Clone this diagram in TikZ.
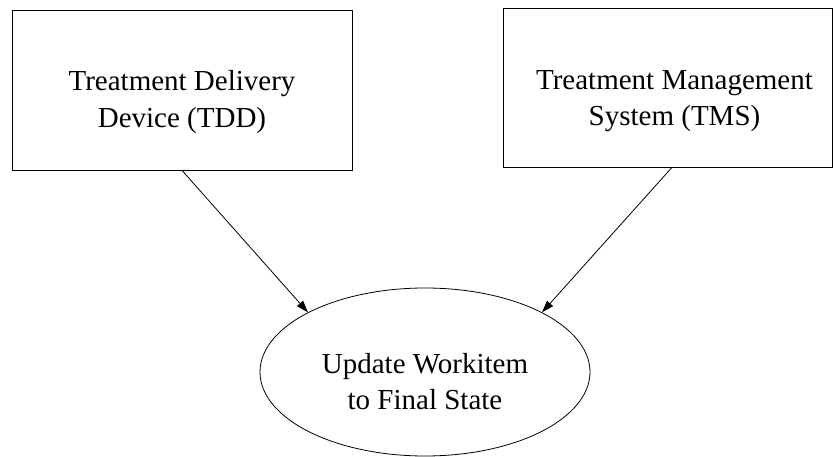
\documentclass[tikz,border=0pt]{standalone}
\usepackage{fontspec}
\setmainfont{Liberation Serif}
\usetikzlibrary{shapes.geometric,arrows.meta,positioning,calc}

\begin{document}
\begin{tikzpicture}[
    x=1pt, y=-1pt,
    sysbox/.style={rectangle, draw, line width=0.8pt, inner sep=0pt},
    opnode/.style={ellipse, draw, line width=0.8pt, inner sep=0pt,
        minimum width=330pt, minimum height=168pt},
    txt/.style={align=center, font=\fontsize{29}{36.5}\selectfont, inner sep=0pt},
    arr/.style={-{Triangle[length=12pt, width=8pt]}, line width=0.8pt}
]
    \useasboundingbox (0,0) rectangle (833,457);

    \node[sysbox, minimum width=340pt, minimum height=160pt,
        label={[txt, name=tddtext, yshift=-12pt]center:{Treatment Delivery\\Device (TDD)}}]
        (tdd) at (182, 90) {};
    \node[sysbox, minimum width=329pt, minimum height=159pt,
        label={[txt, name=tmstext, xshift=7pt, yshift=-13pt]center:{Treatment Management\\System (TMS)}}]
        (tms) at (667.5, 88) {};
    \node[opnode,
        label={[txt, name=updtext, yshift=-9.5pt]center:{Update Workitem\\to Final State}}]
        (update) at (425, 372) {};

    \draw[arr] (tdd.south) -- (update.153);
    \draw[arr] ([xshift=4pt]tms.south) -- (update.27);
\end{tikzpicture}
\end{document}
